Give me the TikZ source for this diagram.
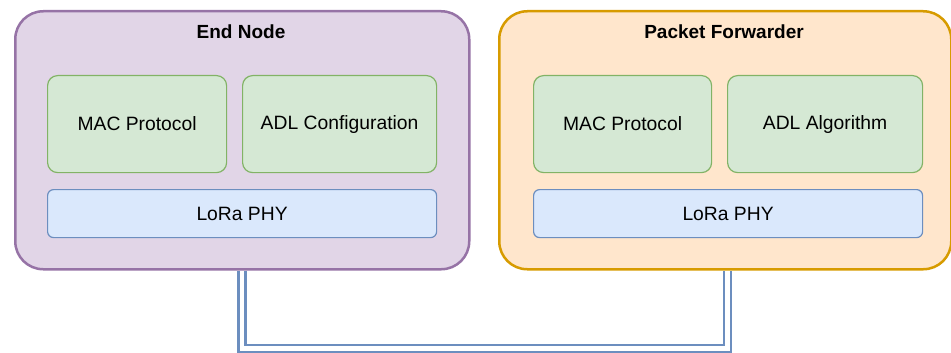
\documentclass[tikz,border=0pt]{standalone}
\usepackage{fontspec}
\setmainfont{Liberation Sans}
\usetikzlibrary{backgrounds}

\definecolor{purpleFill}{HTML}{E1D5E7}
\definecolor{purpleLine}{HTML}{9673A6}
\definecolor{orangeFill}{HTML}{FFE6CC}
\definecolor{orangeLine}{HTML}{D79B00}
\definecolor{greenFill}{HTML}{D5E8D4}
\definecolor{greenLine}{HTML}{82B366}
\definecolor{blueFill}{HTML}{DAE8FC}
\definecolor{blueLine}{HTML}{6C8EBF}

\tikzset{
  container/.style={draw, line width=2.5pt, rounded corners=28pt, inner sep=0pt,
    anchor=north west, minimum width=454pt, minimum height=258pt},
  titletext/.style={font=\fontsize{19}{23}\selectfont\bfseries, inner sep=0pt},
  module/.style={draw=greenLine, fill=greenFill, line width=1.2pt, rounded corners=10pt,
    inner sep=0pt, anchor=north west, minimum height=97pt,
    font=\fontsize{19.3}{23}\selectfont},
  phy/.style={draw=blueLine, fill=blueFill, line width=1.2pt, rounded corners=6pt,
    inner sep=0pt, anchor=north west, minimum width=389pt, minimum height=48pt,
    font=\fontsize{19.3}{23}\selectfont},
  link/.style={draw=blueLine, double=white, double distance=4.5pt, line width=2.5pt}
}

\begin{document}
\begin{tikzpicture}[x=1pt, y=-1pt]
  \useasboundingbox (0,0) rectangle (951,353);

  % End node stack
  \node[container, draw=purpleLine, fill=purpleFill] (en) at (14,10) {};
  \node[titletext] (entitle) at (241,32) {End Node};
  \node[module, minimum width=179pt] (enmac) at (47,75) {MAC Protocol};
  \node[module, minimum width=194pt] (enadl) at (242,75) {ADL Configuration};
  \node[phy] (enphy) at (47,189) {LoRa PHY};

  % Packet forwarder stack
  \node[container, draw=orangeLine, fill=orangeFill, minimum width=452pt] (pf) at (498,10) {};
  \node[titletext] (pftitle) at (724,32) {Packet Forwarder};
  \node[module, minimum width=178pt] (pfmac) at (533,75) {MAC Protocol};
  \node[module, minimum width=195pt] (pfadl) at (727,75) {ADL Algorithm};
  \node[phy] (pfphy) at (533,189) {LoRa PHY};

  % Double link between the two stacks
  \begin{scope}[on background layer]
    \draw[link] ([xshift=-0.5pt]en.south) -- ++(0,78) -| ([xshift=2pt]pf.south);
  \end{scope}
\end{tikzpicture}
\end{document}
